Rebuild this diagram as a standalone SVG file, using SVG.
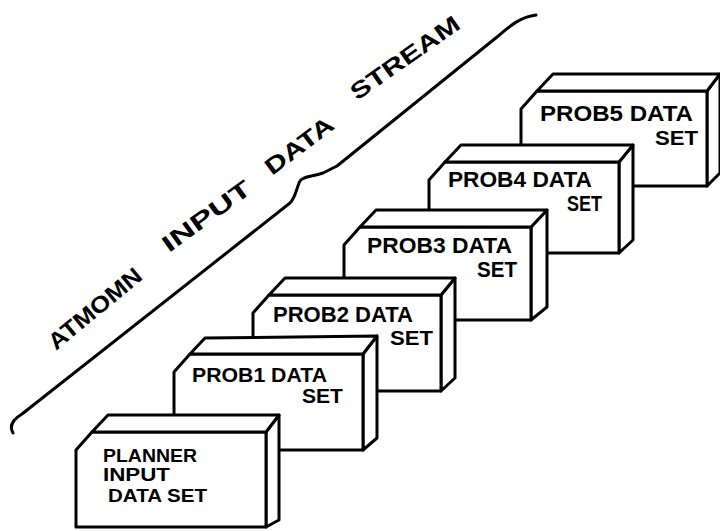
<svg xmlns="http://www.w3.org/2000/svg" width="720" height="531" viewBox="0 0 720 531">
<style>
.ln{fill:#fff;stroke:#000;stroke-width:3;stroke-linejoin:round;stroke-linecap:round}
.st{fill:none;stroke:#000;stroke-width:3;stroke-linejoin:round;stroke-linecap:round}
.t{font-family:"Liberation Sans",Arial,sans-serif;font-weight:bold;font-size:22px;fill:#000}
.t0{font-family:"Liberation Sans",Arial,sans-serif;font-weight:bold;font-size:19px;fill:#000}
.s{font-family:"Liberation Sans",Arial,sans-serif;font-weight:bold;font-size:23px;fill:#000}
</style>
<rect width="720" height="531" fill="#fff"/>
<g id="connectors">
<path class="st" d="M13,433 C9,426 12,420 22,414 L290,203 C296,197 297,186 300,181 C303,176 312,177 323,173 L337,166 L497,37 C510,26 520,17 536,15"/>
</g>
<g id="stream-label">
<text class="s" transform="translate(56,351) rotate(-39.6)" textLength="114" lengthAdjust="spacingAndGlyphs">ATMOMN</text>
<text class="s" transform="translate(169,253) rotate(-36)" textLength="104" lengthAdjust="spacingAndGlyphs">INPUT</text>
<text class="s" transform="translate(272,176) rotate(-37)" textLength="80" lengthAdjust="spacingAndGlyphs">DATA</text>
<text class="s" transform="translate(357,101) rotate(-35)" textLength="128" lengthAdjust="spacingAndGlyphs">STREAM</text>
</g>
<g id="prob5">
<polygon class="ln" points="707,91 720,74 720,173 707,186"/>
<polygon class="ln" points="521,109 537,91 707,91 707,186 521,186"/>
<polygon class="ln" points="537,91 553,74 720,74 707,91"/>
<text class="t" style="font-size:22px" x="540" y="121" textLength="153" lengthAdjust="spacingAndGlyphs">PROB5 DATA</text>
<text class="t" style="font-size:20px" x="655" y="145" textLength="43" lengthAdjust="spacingAndGlyphs">SET</text>
</g>
<g id="prob4">
<polygon class="ln" points="619,162 633,145 633,240 619,253"/>
<polygon class="ln" points="429,180 445,162 619,162 619,253 429,253"/>
<polygon class="ln" points="445,162 461,145 633,145 619,162"/>
<text class="t" x="448" y="187" textLength="144" lengthAdjust="spacingAndGlyphs">PROB4 DATA</text>
<text class="t" x="567" y="211" textLength="35" lengthAdjust="spacingAndGlyphs">SET</text>
</g>
<g id="prob3">
<polygon class="ln" points="531,227 547,210 547,307 531,320"/>
<polygon class="ln" points="344,245 360,227 531,227 531,320 344,320"/>
<polygon class="ln" points="360,227 376,210 547,210 531,227"/>
<text class="t" x="367" y="253" textLength="145" lengthAdjust="spacingAndGlyphs">PROB3 DATA</text>
<text class="t" x="477" y="277" textLength="40" lengthAdjust="spacingAndGlyphs">SET</text>
</g>
<g id="prob2">
<polygon class="ln" points="441,295 455,278 455,378 441,391"/>
<polygon class="ln" points="253,313 269,295 441,295 441,391 253,391"/>
<polygon class="ln" points="269,295 285,278 455,278 441,295"/>
<text class="t" x="273" y="322" textLength="140" lengthAdjust="spacingAndGlyphs">PROB2 DATA</text>
<text class="t" style="font-size:20px" x="390" y="345" textLength="43" lengthAdjust="spacingAndGlyphs">SET</text>
</g>
<g id="prob1">
<polygon class="ln" points="363,354 377,336 377,438 363,450"/>
<polygon class="ln" points="174,372 190,354 363,354 363,450 174,450"/>
<polygon class="ln" points="190,354 205,338 377,336 363,354"/>
<text class="t" style="font-size:21px" x="192" y="382" textLength="135" lengthAdjust="spacingAndGlyphs">PROB1 DATA</text>
<text class="t" style="font-size:20px" x="302" y="403" textLength="41" lengthAdjust="spacingAndGlyphs">SET</text>
</g>
<g id="planner">
<polygon class="ln" points="266,432 279,415 279,520 266,527"/>
<polygon class="ln" points="76,450 92,432 266,432 266,527 76,527"/>
<polygon class="ln" points="92,432 108,415 279,415 266,432"/>
<text class="t0" x="103" y="462" textLength="94" lengthAdjust="spacingAndGlyphs">PLANNER</text>
<text class="t0" x="103" y="481" textLength="67" lengthAdjust="spacingAndGlyphs">INPUT</text>
<text class="t0" x="108" y="502" textLength="99" lengthAdjust="spacingAndGlyphs">DATA SET</text>
</g>
</svg>
